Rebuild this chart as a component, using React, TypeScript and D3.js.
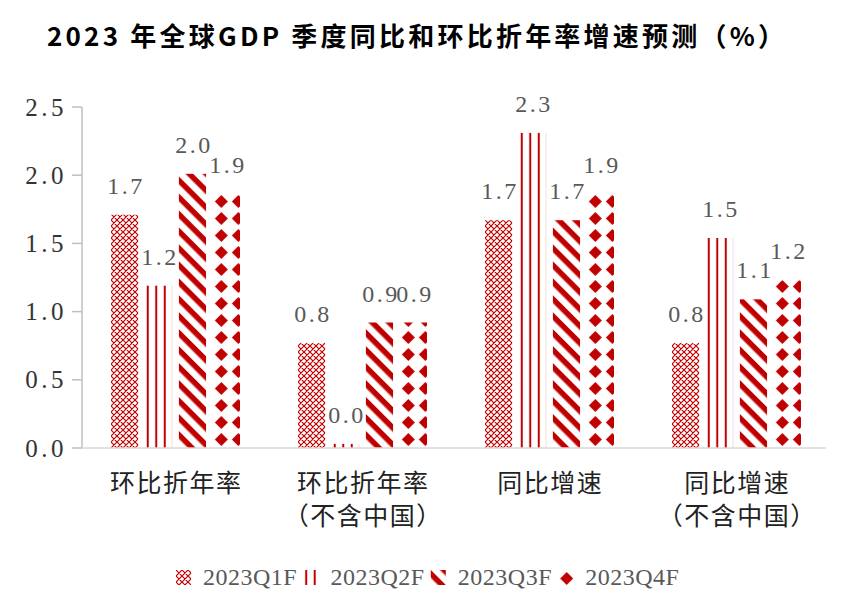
import React from "react";
import * as d3 from "d3";

const categoryLines: string[][] = [
  ["环比折年率"],
  ["环比折年率", "（不含中国）"],
  ["同比增速"],
  ["同比增速", "（不含中国）"],
];
const seriesNames = ["2023Q1F", "2023Q2F", "2023Q3F", "2023Q4F"];
const q1Values = [1.71, 0.77, 1.67, 0.77];
const q2Values = [1.19, 0.03, 2.31, 1.54];
const q3Values = [2.01, 0.92, 1.67, 1.09];
const q4Values = [1.86, 0.92, 1.86, 1.23];
const yTicks = [0, 0.5, 1.0, 1.5, 2.0, 2.5];
const title = "2023 年全球GDP 季度同比和环比折年率增速预测（%）";

const RED = "#c00000";
const W = 864;
const H = 608;

const seriesValues = [q1Values, q2Values, q3Values, q4Values];

function PatternDef({ s, id, ox, oy }: { s: number; id: string; ox: number; oy: number }) {
  if (s === 0) {
    return (
      <pattern id={id} patternUnits="userSpaceOnUse" x={ox} y={oy} width={6} height={6}>
        <rect width={6} height={6} fill="#fff" />
        <path d="M0,0L6,6M6,0L0,6M-1,5L1,7M5,-1L7,1" stroke={RED} strokeWidth={1.2} fill="none" />
      </pattern>
    );
  }
  if (s === 1) {
    return (
      <pattern id={id} patternUnits="userSpaceOnUse" x={ox} y={oy} width={8.5} height={10}>
        <rect width={8.5} height={10} fill="#fff" />
        <rect x={1.8} width={2} height={10} fill={RED} />
      </pattern>
    );
  }
  if (s === 2) {
    return (
      <pattern id={id} patternUnits="userSpaceOnUse" x={0} y={0} width={12} height={12} patternTransform={`translate(${ox},${oy}) rotate(45)`}>
        <rect width={12} height={12} fill="#fff" />
        <rect y={0} width={12} height={5.5} fill={RED} />
      </pattern>
    );
  }
  return (
    <pattern id={id} patternUnits="userSpaceOnUse" x={ox} y={oy} width={17} height={17}>
      <rect width={17} height={17} fill="#fff" />
      <path d="M8.5,2L15,8.5L8.5,15L2,8.5Z" fill={RED} />
    </pattern>
  );
}

export default function App() {
  const x0 = d3
    .scaleBand<number>()
    .domain(d3.range(categoryLines.length))
    .range([82, 830])
    .padding(0);
  const x1 = d3
    .scaleBand<number>()
    .domain(d3.range(seriesNames.length))
    .range([29, x0.bandwidth() - 29])
    .paddingInner(0.2)
    .paddingOuter(0);
  const y = d3.scaleLinear().domain([0, 2.5]).range([448, 107]);

  const bars: { s: number; g: number; v: number; x: number; w: number }[] = [];
  seriesValues.forEach((vals, s) => {
    vals.forEach((v, g) => {
      bars.push({ s, g, v, x: (x0(g) as number) + (x1(s) as number), w: x1.bandwidth() });
    });
  });

  const legendTextX0 = 203;
  const legendStep = 127.4;
  const legendY = 577;

  const labelFont = "'Liberation Serif', 'DejaVu Serif', serif";
  const cjkFont = "'Noto Sans CJK SC', sans-serif";

  return (
    <svg
      width={W}
      height={H}
      viewBox={`0 0 ${W} ${H}`}
      style={{ position: "absolute", left: 0, top: 0, background: "#fff" }}
    >
      <defs>
        {bars.map((b) => (
          <PatternDef key={`p${b.s}-${b.g}`} s={b.s} id={`p${b.s}-${b.g}`} ox={b.x} oy={y(0)} />
        ))}
        {seriesNames.map((n, s) => (
          <PatternDef
            key={`lp${s}`}
            s={s}
            id={`lp${s}`}
            ox={legendTextX0 + s * legendStep - 27}
            oy={legendY - 7}
          />
        ))}
      </defs>
      <rect width={W} height={H} fill="#fff" />

      {/* title */}
      <text
        x={47}
        y={34}
        dominantBaseline="central"
        fontFamily={cjkFont}
        fontWeight={700}
        fontSize={26}
        textLength={737}
        lengthAdjust="spacing"
        fill="#000"
      >
        {title}
      </text>

      {/* y axis */}
      <line x1={82} x2={82} y1={y(2.5)} y2={y(0)} stroke="#bfbfbf" strokeWidth={1.5} />
      {yTicks.map((t) => (
        <g key={t}>
          <line x1={72} x2={82} y1={y(t)} y2={y(t)} stroke="#bfbfbf" strokeWidth={1.5} />
          <text
            x={67}
            y={y(t)}
            textAnchor="end"
            dominantBaseline="central"
            fontFamily={labelFont}
            fontSize={25}
            letterSpacing={3.5}
            fill="#333"
          >
            {t.toFixed(1)}
          </text>
        </g>
      ))}

      {/* bars */}
      {bars.map((b) => (
        <rect
          key={`b${b.s}-${b.g}`}
          x={b.x}
          y={y(b.v)}
          width={b.w}
          height={y(0) - y(b.v)}
          fill={`url(#p${b.s}-${b.g})`}
        />
      ))}

      {/* x axis */}
      <line x1={82} x2={826} y1={y(0)} y2={y(0)} stroke="#d9d9d9" strokeWidth={1.5} />

      {/* data labels */}
      {bars.map((b) => (
        <text
          key={`l${b.s}-${b.g}`}
          x={b.x + b.w / 2 + 1.5}
          y={y(b.v) - 29}
          textAnchor="middle"
          dominantBaseline="central"
          fontFamily={labelFont}
          fontSize={24}
          letterSpacing={2.5}
          fill="#595959"
        >
          {b.v.toFixed(1)}
        </text>
      ))}

      {/* category labels */}
      {categoryLines.map((lines, g) => (
        <g key={`c${g}`}>
          {lines.map((ln, i) => (
            <text
              key={i}
              x={(x0(g) as number) + x0.bandwidth() / 2 + 0.75}
              y={481 + i * 33}
              textAnchor="middle"
              dominantBaseline="central"
              fontFamily={cjkFont}
              fontSize={25}
              letterSpacing={1.5}
              fill="#222"
            >
              {ln}
            </text>
          ))}
        </g>
      ))}

      {/* legend */}
      {seriesNames.map((n, s) => {
        const tx = legendTextX0 + s * legendStep;
        return (
          <g key={`lg${s}`}>
            <rect x={tx - 27} y={legendY - 7} width={15} height={15} fill={`url(#lp${s})`} />
            <text
              x={tx}
              y={legendY}
              dominantBaseline="central"
              fontFamily={labelFont}
              fontSize={24}
              letterSpacing={0.5}
              fill="#595959"
            >
              {n}
            </text>
          </g>
        );
      })}
    </svg>
  );
}
